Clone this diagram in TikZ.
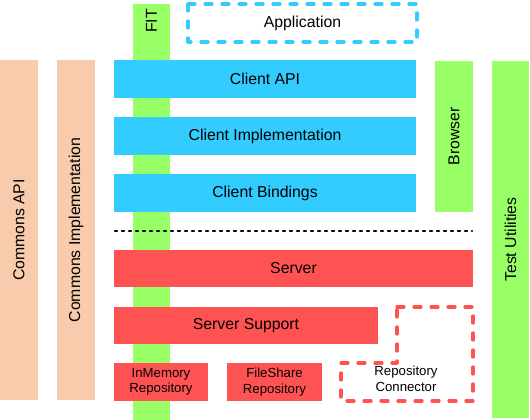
\documentclass[tikz,border=0pt]{standalone}
\usepackage{fontspec}
\setmainfont{Liberation Sans}
\definecolor{commons}{HTML}{F8CBAD}
\definecolor{fitgreen}{HTML}{99FF66}
\definecolor{clientblue}{HTML}{33CCFF}
\definecolor{serverred}{HTML}{FF5353}

\begin{document}
\begin{tikzpicture}[x=1pt,y=-1pt,
	block/.style={inner sep=0pt, align=center, font=\fontsize{15.8}{18}\selectfont},
	smallblock/.style={block, font=\fontsize{13.2}{15.5}\selectfont},
	commonsbar/.style={block, fill=commons, rotate=90, minimum width=340pt, minimum height=38pt},
	clientbox/.style={block, fill=clientblue, minimum width=302pt, minimum height=38pt},
	serverbox/.style={block, fill=serverred, minimum height=37pt},
	dashedbox/.style={line width=3.2pt, line cap=round, line join=round, dash pattern=on 7pt off 10pt}]
	\useasboundingbox (0,0) rectangle (530,420);

	% commons on the left
	\node[commonsbar] (commonsapi) at (19,230) {Commons API};
	\node[commonsbar] (commonsimpl) at (76,230) {Commons Implementation};

	% FIT runs behind everything
	\node[block, fill=fitgreen, minimum width=37pt, minimum height=416pt] (fit) at (151.5,212) {};
	\node[block, rotate=90] (fitlabel) at (151.5,21) {FIT};

	\draw[dashedbox, clientblue] (188,4) rectangle (417,42);
	\node[block] (application) at (302.5,23) {Application};

	% client side
	\node[clientbox] (clientapi) at (265,79) {Client API};
	\node[clientbox] (clientimpl) at (265,136) {Client Implementation};
	\node[clientbox] (clientbind) at (265,193) {Client Bindings};
	\node[block, fill=fitgreen, rotate=90, minimum width=151pt, minimum height=38pt] (browser) at (454,136.5) {Browser};
	\node[block, fill=fitgreen, rotate=90, minimum width=357pt, minimum height=37pt] (testutils) at (510.5,239.5) {Test Utilities};

	%client / server separator
	\coordinate (sepleft) at (115,231);
	\coordinate (sepright) at (472,231);
	\draw[line width=2.5pt, line cap=round, dash pattern=on 2pt off 5pt] (sepleft) -- (sepright);

	% server side
	\node[serverbox, minimum width=359pt] (server) at (293.5,268.5) {Server};
	\node[serverbox, minimum width=264pt] (serversupport) at (246,325.5) {Server Support};
	\node[smallblock, fill=serverred, minimum width=94pt, minimum height=38pt] (inmemory) at (161,382) {InMemory\\Repository};
	\node[smallblock, fill=serverred, minimum width=95pt, minimum height=38pt] (fileshare) at (274.5,382) {FileShare\\Repository};

	\draw[dashedbox, serverred] (397,307) -- (473,307) -- (473,401) -- (341,401) -- (341,363) -- (397,363) -- cycle;
	\node[smallblock] (repoconn) at (406,379) {Repository\\Connector};
\end{tikzpicture}
\end{document}
